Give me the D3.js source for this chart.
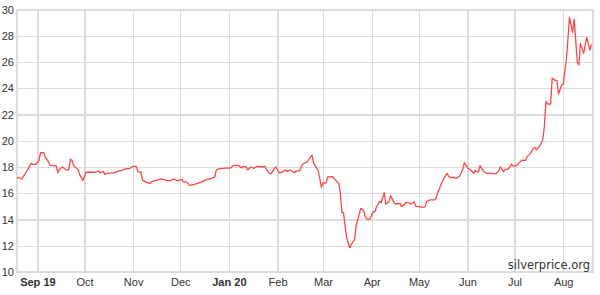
<!DOCTYPE html>
<html lang="en">
<head>
<meta charset="UTF-8">
<title>Silver price, 1 year</title>
<script src="https://d3js.org/d3.v7.min.js"></script>
<style>
body { margin: 0; background: #fff; font-family: "DejaVu Sans", Verdana, sans-serif; }
.grid line { stroke: #dcdcdc; stroke-width: 1.2; shape-rendering: crispEdges; }
.tick text { fill: #333; font-size: 11px; }
</style>
</head>
<body>
<svg width="600" height="295"></svg>
<script>
// silver spot price, USD/oz
const dates = [
  "2019-08-19","2019-08-20","2019-08-22","2019-08-25","2019-08-28","2019-08-29","2019-08-31",
  "2019-09-02","2019-09-03","2019-09-05","2019-09-06","2019-09-07","2019-09-09","2019-09-11",
  "2019-09-13","2019-09-14","2019-09-15","2019-09-17","2019-09-19","2019-09-21","2019-09-22",
  "2019-09-23","2019-09-24","2019-09-27","2019-09-28","2019-09-30",
  "2019-10-02","2019-10-04","2019-10-08","2019-10-10","2019-10-11","2019-10-13","2019-10-14",
  "2019-10-17","2019-10-20","2019-10-22","2019-10-25","2019-10-27","2019-10-30",
  "2019-11-01","2019-11-03","2019-11-04","2019-11-06","2019-11-07","2019-11-10","2019-11-12",
  "2019-11-13","2019-11-16","2019-11-19","2019-11-22","2019-11-24","2019-11-27","2019-11-29",
  "2019-12-02","2019-12-03","2019-12-05","2019-12-07","2019-12-10","2019-12-14","2019-12-17",
  "2019-12-21","2019-12-23","2019-12-24","2019-12-26","2019-12-30",
  "2020-01-02","2020-01-04","2020-01-07","2020-01-09","2020-01-10","2020-01-12","2020-01-13",
  "2020-01-15","2020-01-17","2020-01-19","2020-01-22","2020-01-24","2020-01-25","2020-01-27",
  "2020-01-28","2020-01-30","2020-01-31",
  "2020-02-02","2020-02-04","2020-02-06","2020-02-07","2020-02-09","2020-02-12","2020-02-13",
  "2020-02-15","2020-02-17","2020-02-20","2020-02-21","2020-02-23","2020-02-24","2020-02-26",
  "2020-02-27","2020-02-29",
  "2020-03-01","2020-03-03","2020-03-04","2020-03-07","2020-03-09","2020-03-11","2020-03-12",
  "2020-03-13","2020-03-14","2020-03-16","2020-03-18","2020-03-19","2020-03-21","2020-03-22",
  "2020-03-25","2020-03-27","2020-03-28","2020-03-30","2020-03-31",
  "2020-04-02","2020-04-03","2020-04-04","2020-04-06","2020-04-07","2020-04-09","2020-04-10",
  "2020-04-12","2020-04-13","2020-04-15","2020-04-16","2020-04-19","2020-04-20","2020-04-22",
  "2020-04-23","2020-04-25","2020-04-26","2020-04-28","2020-04-29",
  "2020-05-02","2020-05-03","2020-05-05","2020-05-06","2020-05-08","2020-05-11","2020-05-12",
  "2020-05-13","2020-05-15","2020-05-17","2020-05-19","2020-05-20","2020-05-21","2020-05-23",
  "2020-05-25","2020-05-27","2020-05-29","2020-05-30",
  "2020-06-01","2020-06-03","2020-06-05","2020-06-06","2020-06-08","2020-06-09","2020-06-11",
  "2020-06-13","2020-06-16","2020-06-19","2020-06-21","2020-06-22","2020-06-24","2020-06-25",
  "2020-06-27","2020-06-29","2020-06-30",
  "2020-07-02","2020-07-04","2020-07-06","2020-07-08","2020-07-09","2020-07-11","2020-07-13",
  "2020-07-14","2020-07-15","2020-07-17","2020-07-19","2020-07-20","2020-07-21","2020-07-22",
  "2020-07-24","2020-07-25","2020-07-27","2020-07-28","2020-07-29","2020-07-31",
  "2020-08-01","2020-08-03","2020-08-04","2020-08-05","2020-08-07","2020-08-08","2020-08-10",
  "2020-08-11","2020-08-12","2020-08-14","2020-08-16","2020-08-18","2020-08-19"
];
const prices = [
  17.15,17.2,17.1,17.64,18.28,18.2,18.2,
  18.5,19.1,19.1,18.75,18.6,18.15,18.1,
  18.1,17.56,17.8,18.0,17.8,17.77,18.6,
  18.5,18.1,17.8,17.4,16.97,
  17.6,17.6,17.6,17.7,17.56,17.67,17.44,
  17.56,17.55,17.67,17.77,17.85,17.9,
  18.05,18.05,17.64,17.6,17.0,16.8,16.76,
  16.9,17.0,17.1,17.0,16.95,17.07,16.95,
  17.05,16.87,16.87,16.6,16.68,16.83,17.0,
  17.13,17.25,17.77,17.87,17.92,
  17.92,18.13,18.13,17.92,18.05,18.0,17.77,
  18.0,17.9,18.05,18.0,18.05,17.8,17.5,
  17.5,17.9,18.0,
  17.56,17.6,17.77,17.65,17.77,17.56,17.7,
  17.7,18.23,18.4,18.6,18.9,18.3,17.9,
  17.68,16.45,
  16.78,16.8,17.25,17.26,17.0,16.76,16.0,
  14.52,14.52,12.64,11.85,12.11,12.44,13.5,
  14.85,14.67,14.13,14.0,14.05,
  14.6,14.6,14.93,15.36,15.28,16.04,15.16,
  15.36,15.82,15.36,15.18,15.23,14.97,15.18,
  15.31,15.23,15.18,15.36,15.02,
  14.97,14.93,14.97,15.36,15.49,15.49,15.62,
  16.0,16.63,17.14,17.52,17.3,17.2,17.2,
  17.14,17.3,17.8,18.33,
  17.95,17.77,17.52,17.72,17.6,18.1,17.7,
  17.52,17.52,17.47,17.72,18.02,17.64,17.82,
  17.82,18.23,18.08,
  18.08,18.33,18.53,18.5,18.79,19.0,19.43,
  19.5,19.3,19.6,20.06,21.07,23.0,22.8,
  22.8,24.76,24.6,24.6,23.56,24.25,
  24.3,26.15,27.7,29.4,28.26,29.25,26.0,
  25.77,27.42,26.66,27.88,26.9,27.34
];
const yTicks = [10, 12, 14, 16, 18, 20, 22, 24, 26, 28, 30];
const monthTicks = ["2019-09-01","2019-10-01","2019-11-01","2019-12-01","2020-01-01","2020-02-01",
                    "2020-03-01","2020-04-01","2020-05-01","2020-06-01","2020-07-01","2020-08-01"];
const startDate = "2019-08-19", endDate = "2020-08-20";

const parse = d3.timeParse("%Y-%m-%d");
const data = dates.map((d, i) => ({ date: parse(d), value: prices[i] }));

const svg = d3.select("svg");
const margin = { top: 9.5, right: 7, bottom: 23, left: 17 };
const width = 600, height = 295;

const x = d3.scaleTime()
    .domain([parse(startDate), parse(endDate)])
    .range([margin.left, width - margin.right]);
const y = d3.scaleLinear()
    .domain([10, 30])
    .range([height - margin.bottom, margin.top]);

// horizontal grid + y labels
const yAxis = svg.append("g")
    .attr("class", "grid")
    .attr("transform", `translate(${margin.left},0)`)
    .call(d3.axisLeft(y).tickValues(yTicks).tickSize(-(width - margin.left - margin.right)).tickPadding(3));
yAxis.select(".domain").remove();

// vertical grid + month labels (year shown on Sep 19 and Jan 20)
const fmt = d => (d.getMonth() === 0 || d.getMonth() === 8)
    ? d3.timeFormat("%b %y")(d) : d3.timeFormat("%b")(d);
const xAxis = svg.append("g")
    .attr("class", "grid")
    .attr("transform", `translate(0,${height - margin.bottom})`)
    .call(d3.axisBottom(x).tickValues(monthTicks.map(parse))
      .tickSize(-(height - margin.top - margin.bottom)).tickPadding(6).tickFormat(fmt));
xAxis.select(".domain").remove();
xAxis.selectAll(".tick text")
    .style("font-weight", d => (d.getMonth() === 0 || d.getMonth() === 8) ? "bold" : "normal");

// frame
svg.append("rect")
    .attr("x", margin.left).attr("y", margin.top)
    .attr("width", width - margin.left - margin.right)
    .attr("height", height - margin.top - margin.bottom)
    .attr("fill", "none").attr("stroke", "#dcdcdc").attr("stroke-width", 1.2)
    .attr("shape-rendering", "crispEdges");

// price line
svg.append("path")
    .datum(data)
    .attr("fill", "none")
    .attr("stroke", "#ff4545")
    .attr("stroke-width", 1.3)
    .attr("stroke-linejoin", "round")
    .attr("d", d3.line().x(d => x(d.date)).y(d => y(d.value)));

// watermark
svg.append("text")
    .attr("x", width - margin.right - 3)
    .attr("y", height - margin.bottom - 3)
    .attr("text-anchor", "end")
    .attr("fill", "#333")
    .style("font-size", "11.5px")
    .text("silverprice.org");
</script>
</body>
</html>
